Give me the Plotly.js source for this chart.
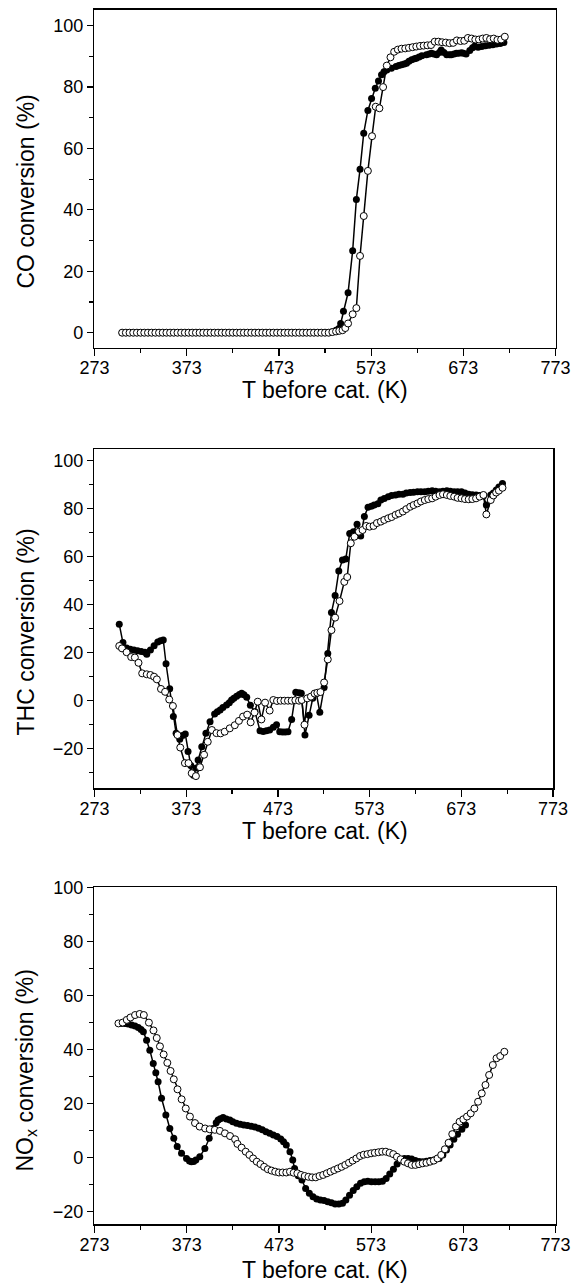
<!DOCTYPE html>
<html>
<head>
<meta charset="utf-8">
<script src="https://cdn.plot.ly/plotly-3.0.1.min.js"></script>
<style>
  html, body { margin: 0; padding: 0; background: #fff; }
  #chart { width: 572px; height: 1285px; }
</style>
</head>
<body>
<div id="chart"></div>
<script>
// ---------- CO conversion ----------
const coFilledT = [303,307,311,315,319,323,327,331,335,339,343,347,351,355,359,363,367,371,375,379,383,387,391,395,399,403,407,411,415,419,423,427,431,435,439,443,447,451,455,459,463,467,471,475,479,483,487,491,495,499,503,507,511,515,519,523,527,
  531,535,538,540,543,548,553,557,561,565,569.5,573.5,577.5,581,584.3,587,590,595,600,603,606,609,611.4,614,617,620,622,625,628,633,636,638.4,641,644,647,649,652,655,658,660,663,665.5,668,671,673,676,680,683,685.4,689,693,697,701,705,709,713,717];
const coFilledV = [0,0,0,0,0,0,0,0,0,0,0,0,0,0,0,0,0,0,0,0,0,0,0,0,0,0,0,0,0,0,0,0,0,0,0,0,0,0,0,0,0,0,0,0,0,0,0,0,0,0,0,0,0,0,0,0,0,
  0.3,0.8,1.4,3,7,13,26.7,43.4,53.2,65,72.4,76.3,79.6,82,84,85,85.6,86.1,86.7,87,87.3,87.5,87.8,88.4,88.9,89.2,89.4,89.8,90.2,90.5,90.8,91,90.8,90.5,91.3,92.1,91.3,90.5,90.5,90.5,90.8,91,91,91.2,91,90.8,91.9,92.8,93.4,93,93.2,93.5,93.6,93.8,94,94.2,94.5];
const coOpenT = [303,307,311,315,319,323,327,331,335,339,343,347,351,355,359,363,367,371,375,379,383,387,391,395,399,403,407,411,415,419,423,427,431,435,439,443,447,451,455,459,463,467,471,475,479,483,487,491,495,499,503,507,511,515,519,523,527,531,535,
  538.5,542,545,548,553,557,561,565,569.5,574,578,582,586,590,594,598,602,606,610,614,618,622,626,630,634,638,642,646,650,654,658,662,666,670,674,678,682,686,690,694,698,702,706,710,714,718];
const coOpenV = [0,0,0,0,0,0,0,0,0,0,0,0,0,0,0,0,0,0,0,0,0,0,0,0,0,0,0,0,0,0,0,0,0,0,0,0,0,0,0,0,0,0,0,0,0,0,0,0,0,0,0,0,0,0,0,0,0,0.2,0.4,
  0.6,0.8,1.5,3,6,8,25,38,52.7,64,73.6,73.1,80,87,89.7,91.5,92.2,92.5,92.6,92.8,93,93.2,93.4,93.5,93.6,93.7,94.8,94.8,94.6,94.5,94.3,94.4,95.2,95,95.1,96,95.8,95.5,95.5,95.8,96,95.6,95.8,95.4,95.5,96.4];

// ---------- THC conversion ----------
const thcFilledT = [300,304,308,312,316,320,324,328,330,334,338,342,345,348,351,355,359,362,366,369,372,375,378,381,384,386,390,394.5,399,404,407,410,413,417,420,422.5,425,428,431,433.5,436,439,443,448,453.5,457,460.5,464,468,471.5,475,478,481,484,488,492.5,496,498.5,502.5,507,511,515,518.7,523.4,527.4,531.4,535.4,539.4,543.4,547,551.3,555.3,559.3,563.3,567.3,571.3,575,578,582,585.3,589,593.3,597,601.3,605,609.3,613,617.2,621,625.2,629,633.2,637,641.2,645,649.2,653,657.2,661,665.2,669,673.2,677,681.1,685,689.1,693,697.1,700.3,705.1,708,711.1,714,717.9];
const thcFilledV = [31.9,24.2,22,21.4,21.1,20.8,20.5,20.2,19.4,21.1,22.9,24.5,25,25.3,15.4,5,-6.6,-13.6,-16,-14.5,-13.9,-21.2,-27,-31,-28,-24.7,-19.2,-13.6,-8.8,-5.5,-4.6,-3.9,-2.8,-1.8,-0.8,0.3,1,1.9,2.6,3.1,2.5,1.4,-1.9,-4.6,-12.5,-12.8,-12.5,-12.2,-11.1,-10,-12.9,-13,-13,-12.9,-7.8,3.5,3.3,3.1,-14.3,-6,1,3,-4.8,5.5,19.7,36.7,43.8,54,58.6,59,69.7,70.4,73.5,68.6,76.7,80.6,81,81.5,82,83.6,84.2,85,85.5,85.7,86,86,86.5,86.7,86.8,87,87,87,87.2,87.5,87.2,87,87.2,87.5,87.2,87,87,87,86.5,86,85.8,85.7,85.5,85.3,81.5,85.7,86.5,87.8,89,90.5];
const thcOpenT = [300,303,308,313,317,321,325,330,334,338,341,345.5,350,354.5,358.5,363.5,366.5,371.6,375.5,379,383.6,388,392.5,396.5,401,406,410.5,415,420.5,426,430.5,435,439.5,443.3,447.5,451,455,459,464,468,472,476,480,484,488,492,496,499,502,505,509,513,516,519.4,523.4,527.4,531.4,535.4,540.2,545.4,548.6,552.5,556.5,561.3,565.3,569.3,573,577.3,581,585.3,589,593.3,597,601.3,605,609.3,613,617.3,621,625.2,629,633.2,637,641.2,645,649.2,653,657.2,661,665.2,669,673.2,677,681.1,685,689.1,693,697.1,700.3,705.1,708,711,714,717.9];
const thcOpenV = [22.8,21.8,20.2,18.2,18,15.8,11.4,11,10.7,10,8.9,4.9,3.7,0.5,-2.2,-14.3,-19.5,-26,-26,-30.2,-31.4,-27.7,-22.5,-17.1,-12.2,-13.5,-13.6,-12.9,-11.5,-10.2,-8.4,-6.6,-5.8,-9,-4.9,-0.4,-7.8,-0.8,-4.1,0.3,-0.1,0,0,0,0,0.2,0,0.3,-10,1,1.7,3,3.3,3.6,7.6,17.2,29.4,34.6,41.5,49.5,51.5,65.6,68.3,70.4,71.1,72.8,72.5,72.8,74,74.6,75.3,76,76.5,77.4,78,78.8,79.8,80.8,81.5,82.2,83,83.6,84,84.3,85,85.7,86,85.7,85.3,85,84.5,84.3,84,83.9,84,84.3,85,85.7,77.6,83.6,85.5,86.7,87.5,88.7];

// ---------- NOx conversion ----------
const noxFilledT = [301.5,306,309.5,313.3,317,320.5,323.5,326,329.5,333,336.7,339.5,342,345.7,350.4,354.7,359,362.7,367.4,372.8,376,378.2,380.5,382.9,387.2,392.7,397.4,401.7,405,407.1,409.5,412.5,416,419.8,423,427,431,435,439,443,447,451,455,459,463,467,471,475,478,481,485,488,490,494,498,502,506,510,514,518,522,526,530,534,538,542,545.6,549.6,553.6,557.5,561.5,565.5,569.4,573.4,577.4,581.3,585.3,589.3,593.2,597.2,601.2,605.1,609.1,613.1,617,621,625,629,633,637,641,646.8,650.8,654.7,658.7,662.7,666.7,671.4,675.4];
const noxFilledV = [49.6,49.6,49.4,49,48.6,48.1,47.3,46.5,43.4,39.7,34.8,31.3,28,21.9,15.7,10.7,7.1,4,1.5,-0.4,-1.3,-1.6,-1.5,-1,0.2,3.3,7.1,10.7,12.8,13.8,14.3,14.8,14.2,13.8,13.2,12.6,12.3,12,11.8,11.5,11.2,10.8,10.2,9.5,8.9,8.3,7.7,6.8,5.8,4.6,2.1,-1,-4.1,-6.8,-8.4,-11.5,-13.3,-14.6,-15.4,-15.8,-16,-16.4,-16.8,-17.3,-17.3,-17,-15.8,-14,-12.3,-10.9,-9.6,-9,-8.8,-9,-9,-9,-8.8,-7.8,-6.2,-4.4,-2.5,-1,-0.4,-0.4,-0.6,-1.2,-1.5,-1.6,-1.4,-1.2,-1,-0.4,0.9,2.7,4.6,6.7,8.6,10.4,12];
const noxOpenT = [299,303.5,308,312,317,322,326.5,332,337,340.5,344,348,352,355.5,359,363,367.5,372,376.5,382,387,393,398,403.5,409,414.5,420,425.5,428,432.5,437,441,445,449,453,457,461,465,469,473,477,481,485,489,493,497,501,505,509,513,517,521,525,529,533,537,541,545,549,553,557,561,565,569,573,577,581,585,589,593,597,601,605,609,613,617,621,625,629,633,637,641,645,649,653,657,661,665,669,673,677,681,685,689,693,697,701,705,709,713,717.5];
const noxOpenV = [49.6,49.9,50.9,51.8,52.7,53.1,52.7,49.9,47,44.2,41.1,38.1,35,32,28.9,25.2,21.5,18.1,15.1,12.7,11.4,10.7,10.4,10.2,9.8,8.9,7.9,6.7,5,3.6,2.1,0.9,-0.4,-1.6,-2.5,-3.5,-4.4,-4.9,-5.3,-5.6,-5.6,-5.6,-5.3,-5.7,-5.9,-6.5,-6.9,-7.2,-7.4,-7.4,-6.9,-6.5,-5.9,-5.3,-4.7,-4.1,-3.5,-2.8,-2,-1.2,-0.4,0.5,1,1.2,1.5,1.7,1.9,2.1,2.1,1.7,1.2,0.2,-0.7,-1.6,-2.2,-2.8,-2.8,-2.5,-2.2,-2,-1.6,-1.2,-0.4,0.9,3,5.4,8.6,11.4,13.2,14.1,15.1,16.3,18.1,20.6,23.7,26.8,30.5,34.2,36.7,37.5,39.1];

// ---------- texts ----------
const xTitle = 'T before cat. (K)';
const yTitles = ['CO conversion (%)', 'THC conversion (%)', 'NO<sub>x</sub> conversion (%)'];

const FONT = 'Liberation Sans, Arial, Helvetica, sans-serif';
const filledStyle = {
  mode: 'lines+markers',
  line: {color: '#000', width: 1.5},
  marker: {symbol: 'circle', size: 7, color: '#000', line: {width: 0}}
};
const openStyle = {
  mode: 'lines+markers',
  line: {color: '#000', width: 1.5},
  marker: {symbol: 'circle', size: 7, color: '#fff', line: {color: '#000', width: 1}}
};

function tr(x, y, style, xa, ya) {
  return Object.assign({x: x, y: y, type: 'scatter', xaxis: xa, yaxis: ya, showlegend: false, hoverinfo: 'skip', cliponaxis: false}, style);
}

const data = [
  tr(coFilledT, coFilledV, filledStyle, 'x', 'y'),
  tr(coOpenT, coOpenV, openStyle, 'x', 'y'),
  tr(thcFilledT, thcFilledV, filledStyle, 'x2', 'y2'),
  tr(thcOpenT, thcOpenV, openStyle, 'x2', 'y2'),
  tr(noxFilledT, noxFilledV, filledStyle, 'x3', 'y3'),
  tr(noxOpenT, noxOpenV, openStyle, 'x3', 'y3')
];

function xAxis(domain, anchor) {
  return {
    domain: domain, anchor: anchor, range: [273, 773],
    tick0: 273, dtick: 100, ticks: 'outside', ticklen: 7, tickwidth: 1.2, tickcolor: '#000',
    minor: {tick0: 273, dtick: 50, ticks: 'outside', ticklen: 4, tickwidth: 1.2, tickcolor: '#000'},
    showline: true, linewidth: 1.7, linecolor: '#000', mirror: true,
    showgrid: false, zeroline: false,
    ticklabelstandoff: -4,
    tickfont: {family: FONT, size: 18, color: '#000'},
    automargin: false
  };
}
function yAxis(domain, anchor, range) {
  return {
    domain: domain, anchor: anchor, range: range,
    tick0: 0, dtick: 20, ticks: 'outside', ticklen: 6, tickwidth: 1.2, tickcolor: '#000',
    minor: {tick0: 0, dtick: 10, ticks: 'outside', ticklen: 4, tickwidth: 1.2, tickcolor: '#000'},
    showline: true, linewidth: 1.7, linecolor: '#000', mirror: true,
    showgrid: false, zeroline: false,
    tickfont: {family: FONT, size: 18, color: '#000'},
    automargin: false
  };
}

const H = 1285, W = 572;
const titleFont = {family: FONT, size: 23, color: '#000'};
function xLab(yPx) {
  return {text: xTitle, xref: 'paper', yref: 'paper', x: 325 / W, y: 1 - yPx / H,
          xanchor: 'center', yanchor: 'middle', showarrow: false, font: titleFont};
}
function yLab(text, yPx) {
  return {text: text, xref: 'paper', yref: 'paper', x: 25.5 / W, y: 1 - yPx / H, textangle: -90,
          xanchor: 'center', yanchor: 'middle', showarrow: false, font: titleFont};
}

const layout = {
  width: W, height: H,
  margin: {l: 0, r: 0, t: 0, b: 0},
  paper_bgcolor: '#fff', plot_bgcolor: '#fff',
  showlegend: false,
  xaxis: xAxis([0.1652, 0.9712], 'y'),
  yaxis: yAxis([0.7294, 0.9922], 'x', [-4.9, 105.1]),
  xaxis2: xAxis([0.1652, 0.9668], 'y2'),
  yaxis2: yAxis([0.3865, 0.6504], 'x2', [-36.5, 104.75]),
  xaxis3: xAxis([0.1652, 0.9712], 'y3'),
  yaxis3: yAxis([0.0472, 0.3095], 'x3', [-24.8, 100]),
  annotations: [
    xLab(390), xLab(831), xLab(1270),
    yLab(yTitles[0], 192), yLab(yTitles[1], 632), yLab(yTitles[2], 1071)
  ]
};

Plotly.newPlot('chart', data, layout, {staticPlot: true, displayModeBar: false});
</script>
</body>
</html>
